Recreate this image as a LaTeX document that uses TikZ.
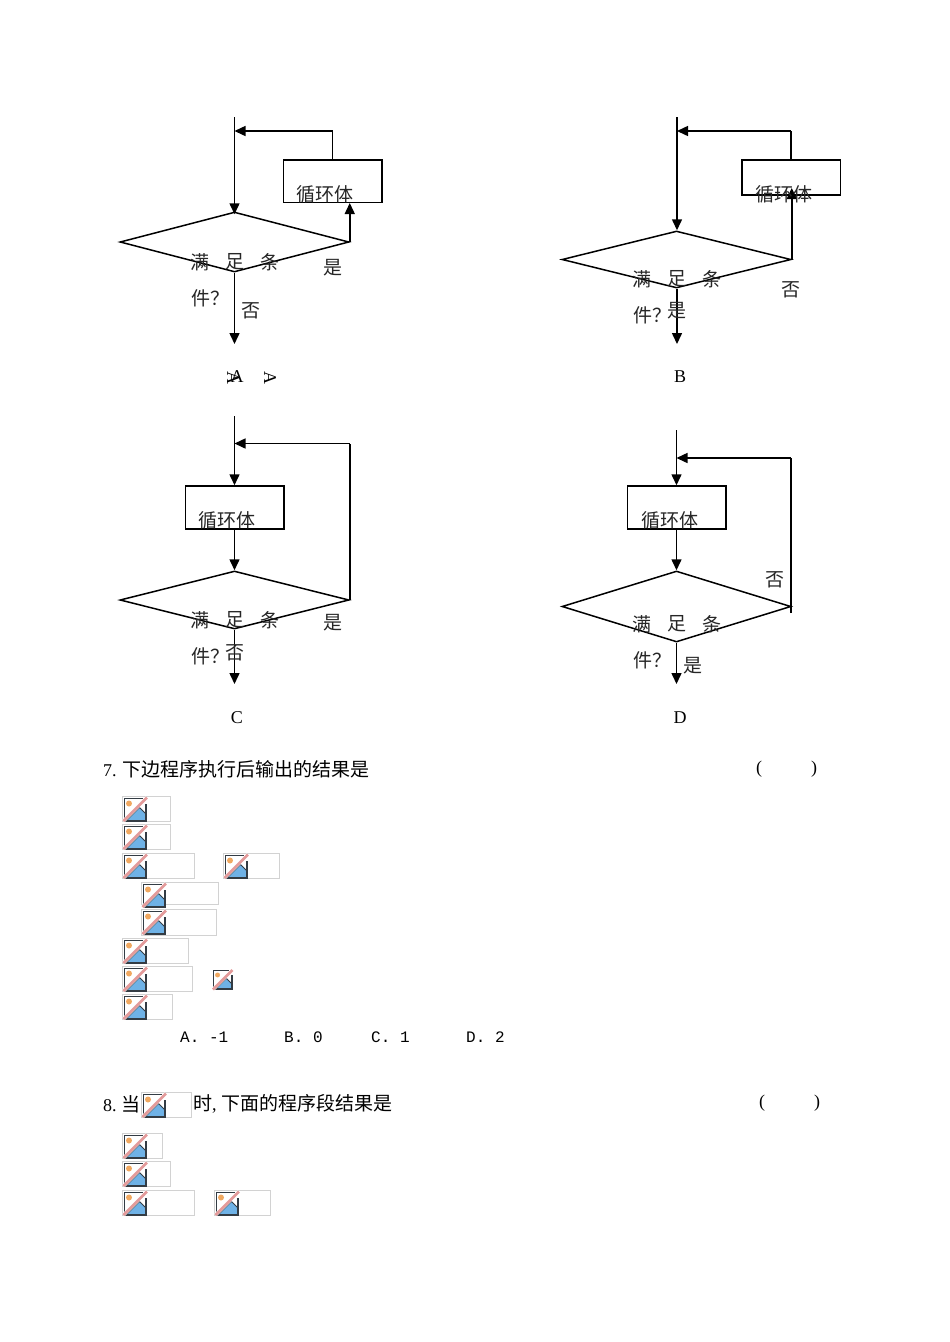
\documentclass[tikz,border=0pt]{standalone}
\usepackage{fontspec}
\setmainfont{Liberation Serif}
\setmonofont{Liberation Mono}
\newfontfamily\cjk{Noto Sans CJK SC}
\usetikzlibrary{shapes.geometric,arrows.meta}
\definecolor{imgblue}{HTML}{6FB2E6}
\definecolor{imgred}{HTML}{E39A9A}
\definecolor{imgsun}{HTML}{F0A860}
\definecolor{imgdark}{HTML}{333C44}
\definecolor{imgbox}{HTML}{D2D2D2}
\tikzset{
  x=1pt,y=-1pt,
  flow/.style={draw=black,line width=1.5pt},
  arr/.style={flow,-{Triangle[length=11pt,width=10pt]}},
  plain/.style={flow},
  loopbox/.style={draw=black,line width=1.5pt,rectangle,inner sep=0pt},
  cond/.style={draw=black,line width=1.5pt,diamond,inner sep=0pt},
  lab/.style={inner sep=0pt,yshift=-1pt,font=\fontsize{19}{19}\selectfont\cjk,text=black!85},
  letter/.style={inner sep=0pt,font=\fontsize{18}{18}\selectfont},
  line/.style={inner sep=0pt,anchor=west,font=\fontsize{18}{18}\selectfont},
  opt/.style={inner sep=0pt,anchor=west,font=\fontsize{16}{16}\selectfont\ttfamily},
  imgframe/.style={draw=imgbox,line width=1.2pt,fill=white},
}
% broken-image icon at the current origin, scaled to a 23px square
\newcommand{\brokenicon}{%
    \fill[white] (0,0) rectangle (23,23);
    \fill[imgblue] (3,23) -- (16,10) -- (23,17) -- (23,23) -- cycle;
    \draw[imgdark,line width=1pt] (3,23) -- (16,10) -- (23,17);
    \fill[imgsun] (5.5,6) circle (3);
    \draw[imgdark,line width=1.6pt] (0.8,23.2) -- (0.8,0.8) -- (19,0.8);
    \draw[imgdark,line width=1.6pt] (0.8,23.2) -- (22.6,23.2) -- (22.6,6);
    \draw[white,line width=3.4pt] (0,23.5) -- (23.5,0);
    \draw[imgred,line width=2.6pt] (0,23.5) -- (23.5,0);}
% broken-image placeholder: left, top, width, height
\newcommand{\brokenimg}[4]{%
  \begin{scope}[shift={(#1-0.2,#2-0.2)}]
    \draw[imgframe] (0,0) rectangle (#3,#4);
    \begin{scope}[shift={(0.7,0.7)}]\brokenicon\end{scope}
  \end{scope}}
\begin{document}
\begin{tikzpicture}
\useasboundingbox (0,0) rectangle (950,1342);
\fill[white] (0,0) rectangle (950,1342);

% ---------- A
\coordinate (a0) at (234.5,117);
\coordinate (a1) at (234.5,344);
\coordinate (a2) at (234.5,131);
\coordinate (a3) at (332.5,131);
\node[cond,minimum width=229pt,minimum height=60pt,shape aspect=3.82] (ad) at (234.5,242) {};
\node[loopbox,minimum width=98.5pt,minimum height=42.5pt] (ab) at (332.5,181) {};
\draw[arr] (a0) -- ([yshift=-3pt]ad.north);
\draw[arr] (ad.south) -- (a1);
\draw[arr] (ad.east) -- (ab.south -| ad.east);
\draw[plain] (ab.north) -- (a3);
\draw[arr] (a3) -- (a2);
\node[lab] at (325,193) {循环体};
\node[lab] at (200,261) {满};
\node[lab] at (235,261) {足};
\node[lab] at (270,261) {条};
\node[lab] at (210,297) {件？};
\node[lab] at (333,267) {是};
\node[lab] at (251,310) {否};
\node[letter,rotate=-90] at (233,378) {A};
\node[letter,rotate=-90] at (270,378) {A};
\node[letter] at (237,377) {A};

% ---------- B
\coordinate (b0) at (677,117);
\coordinate (b1) at (677,344);
\coordinate (b2) at (677,131);
\coordinate (b3) at (791,131);
\coordinate (b4) at (791,188);
\node[cond,minimum width=229pt,minimum height=57pt,shape aspect=4.02] (bd) at (676.5,259.5) {};
\node[loopbox,minimum width=98.5pt,minimum height=35pt] (bb) at (791,177.5) {};
\draw[arr] (b0) -- (b0 |- bd.north);
\draw[arr] (b0 |- bd.south) -- (b1);
\draw[arr] (bd.east) -- (bd.east |- b4);
\draw[plain] (bb.north) -- (b3);
\draw[arr] (b3) -- (b2);
\node[lab] at (784,193) {循环体};
\node[lab] at (642,278) {满};
\node[lab] at (677,278) {足};
\node[lab] at (712,278) {条};
\node[lab] at (652,314) {件？};
\node[lab] at (791,289) {否};
\node[lab] at (677,310) {是};
\node[letter] at (680,377) {B};

% ---------- C
\coordinate (c0) at (234.5,416);
\coordinate (c1) at (234.5,684);
\coordinate (c2) at (234.5,443.5);
\node[cond,minimum width=229pt,minimum height=58pt,shape aspect=3.95] (cd) at (234.5,600) {};
\node[loopbox,minimum width=98.5pt,minimum height=43pt] (cb) at (234.5,507.5) {};
\coordinate (c3) at (cd.east |- c2);
\draw[arr] (c0) -- (cb.north);
\draw[arr] (cb.south) -- (cd.north);
\draw[arr] (cd.south) -- (c1);
\draw[plain] (cd.east) -- (c3);
\draw[arr] (c3) -- (c2);
\node[lab] at (227,519) {循环体};
\node[lab] at (200,619) {满};
\node[lab] at (235,619) {足};
\node[lab] at (270,619) {条};
\node[lab] at (210,655) {件？};
\node[lab] at (333,622) {是};
\node[lab] at (235,652) {否};
\node[letter] at (237,718) {C};

% ---------- D
\coordinate (d0) at (676.5,430);
\coordinate (d1) at (676.5,684);
\coordinate (d2) at (676.5,458);
\coordinate (d3) at (791,458);
\coordinate (d4) at (791,613);
\node[cond,minimum width=229pt,minimum height=71pt,shape aspect=3.22] (dd) at (676.5,606.5) {};
\node[loopbox,minimum width=98.5pt,minimum height=43pt] (db) at (676.5,507.5) {};
\draw[arr] (d0) -- (db.north);
\draw[arr] (db.south) -- (dd.north);
\draw[arr] (dd.south) -- (d1);
\draw[plain] (d4) -- (d3);
\draw[arr] (d3) -- (d2);
\node[lab] at (669.5,519) {循环体};
\node[lab] at (642,623) {满};
\node[lab] at (677,623) {足};
\node[lab] at (712,623) {条};
\node[lab] at (652,659) {件？};
\node[lab] at (775,579) {否};
\node[lab] at (693,665) {是};
\node[letter] at (680,718) {D};

% ---------- question 7
\node[line] (q7) at (103,769) {7.\hspace{6pt}{\cjk\fontsize{19}{19}\selectfont 下边程序执行后输出的结果是}};
\node[inner sep=0pt,font=\fontsize{18}{18}\selectfont] (p7a) at (759,769) {(};
\node[inner sep=0pt,font=\fontsize{18}{18}\selectfont] (p7b) at (814,769) {)};
\brokenimg{123}{797}{48}{25}
\brokenimg{123}{825}{48}{25}
\brokenimg{123}{854}{72}{25}
\brokenimg{224}{854}{56}{25}
\brokenimg{142}{883}{77}{22}
\brokenimg{142}{910}{75}{26}
\brokenimg{123}{939}{66}{25}
\brokenimg{123}{967}{70}{25}
\begin{scope}[shift={(213,970)},scale=0.83]
  \brokenicon
\end{scope}
\brokenimg{123}{995}{50}{25}
\node[opt] at (180,1037) {A. -1};
\node[opt] at (284,1037) {B. 0};
\node[opt] at (371,1037) {C. 1};
\node[opt] at (466,1037) {D. 2};

% ---------- question 8
\node[line] (q8) at (103,1104) {8.\hspace{4.5pt}{\cjk\fontsize{19}{19}\selectfont 当}};
\brokenimg{142}{1093}{50}{25}
\node[line] (q8b) at (193,1104) {{\cjk\fontsize{19}{19}\selectfont 时},\hspace{5pt}{\cjk\fontsize{19}{19}\selectfont 下面的程序段结果是}};
\node[inner sep=0pt,font=\fontsize{18}{18}\selectfont] (p8a) at (762,1103) {(};
\node[inner sep=0pt,font=\fontsize{18}{18}\selectfont] (p8b) at (817,1103) {)};
\brokenimg{123}{1134}{40}{25}
\brokenimg{123}{1162}{48}{25}
\brokenimg{123}{1191}{72}{25}
\brokenimg{215}{1191}{56}{25}
\end{tikzpicture}
\end{document}
